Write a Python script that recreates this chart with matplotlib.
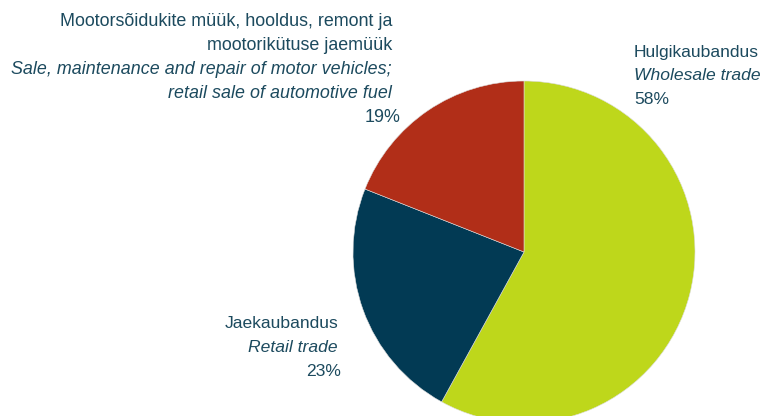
import matplotlib.pyplot as plt

plt.rcParams['font.family'] = ['Liberation Sans', 'DejaVu Sans']

# data
sectors_et = ["Hulgikaubandus", "Jaekaubandus",
              "Mootorsõidukite müük, hooldus, remont ja\nmootorikütuse jaemüük"]
sectors_en = ["Wholesale trade", "Retail trade",
              "Sale, maintenance and repair of motor vehicles;\nretail sale of automotive fuel"]
shares = [58, 23, 19]
colors = ["#BED71B", "#023A54", "#B12E18"]
text_col = "#1C4A5E"

W, H = 763, 416
fig = plt.figure(figsize=(W / 100, H / 100), dpi=100)

# pie centre (524, 252) px, radius 171 px
cx, cy, r = 524, 252, 171
ax = fig.add_axes([(cx - r) / W, (H - cy - r) / H, 2 * r / W, 2 * r / H])
ax.pie(shares, colors=colors, startangle=90, counterclock=False,
       radius=1, wedgeprops=dict(linewidth=0.4, edgecolor="#dddddd"))
ax.set_xlim(-1, 1)
ax.set_ylim(-1, 1)
ax.set_aspect("equal")
ax.axis("off")
for p in ax.patches:
    p.set_clip_on(False)


def px(x, y):
    return x / W, 1 - y / H


def block(lines, x, ys, ha, fs):
    for (txt, style), y in zip(lines, ys):
        fig.text(*px(x, y), txt, ha=ha, va="center", fontsize=fs,
                 style=style, color=text_col)


# wholesale label
block([(sectors_et[0], "normal"), (sectors_en[0], "italic"), (f"{shares[0]}%", "normal")],
      634, [52, 76, 100], "left", 12.6)

# retail label
block([(sectors_et[1], "normal"), (sectors_en[1], "italic")], 338, [324, 348], "right", 12.6)
fig.text(*px(341, 372), f"{shares[1]}%", ha="right", va="center", fontsize=12.6, color=text_col)

# motor vehicles label
et = sectors_et[2].split("\n")
en = sectors_en[2].split("\n")
block([(et[0], "normal"), (et[1], "normal"), (en[0], "italic"), (en[1], "italic")],
      392, [22, 46, 70, 93], "right", 12.9)
fig.text(*px(400, 117), f"{shares[2]}%", ha="right", va="center", fontsize=12.9, color=text_col)

fig.savefig("out.png", dpi=100)
